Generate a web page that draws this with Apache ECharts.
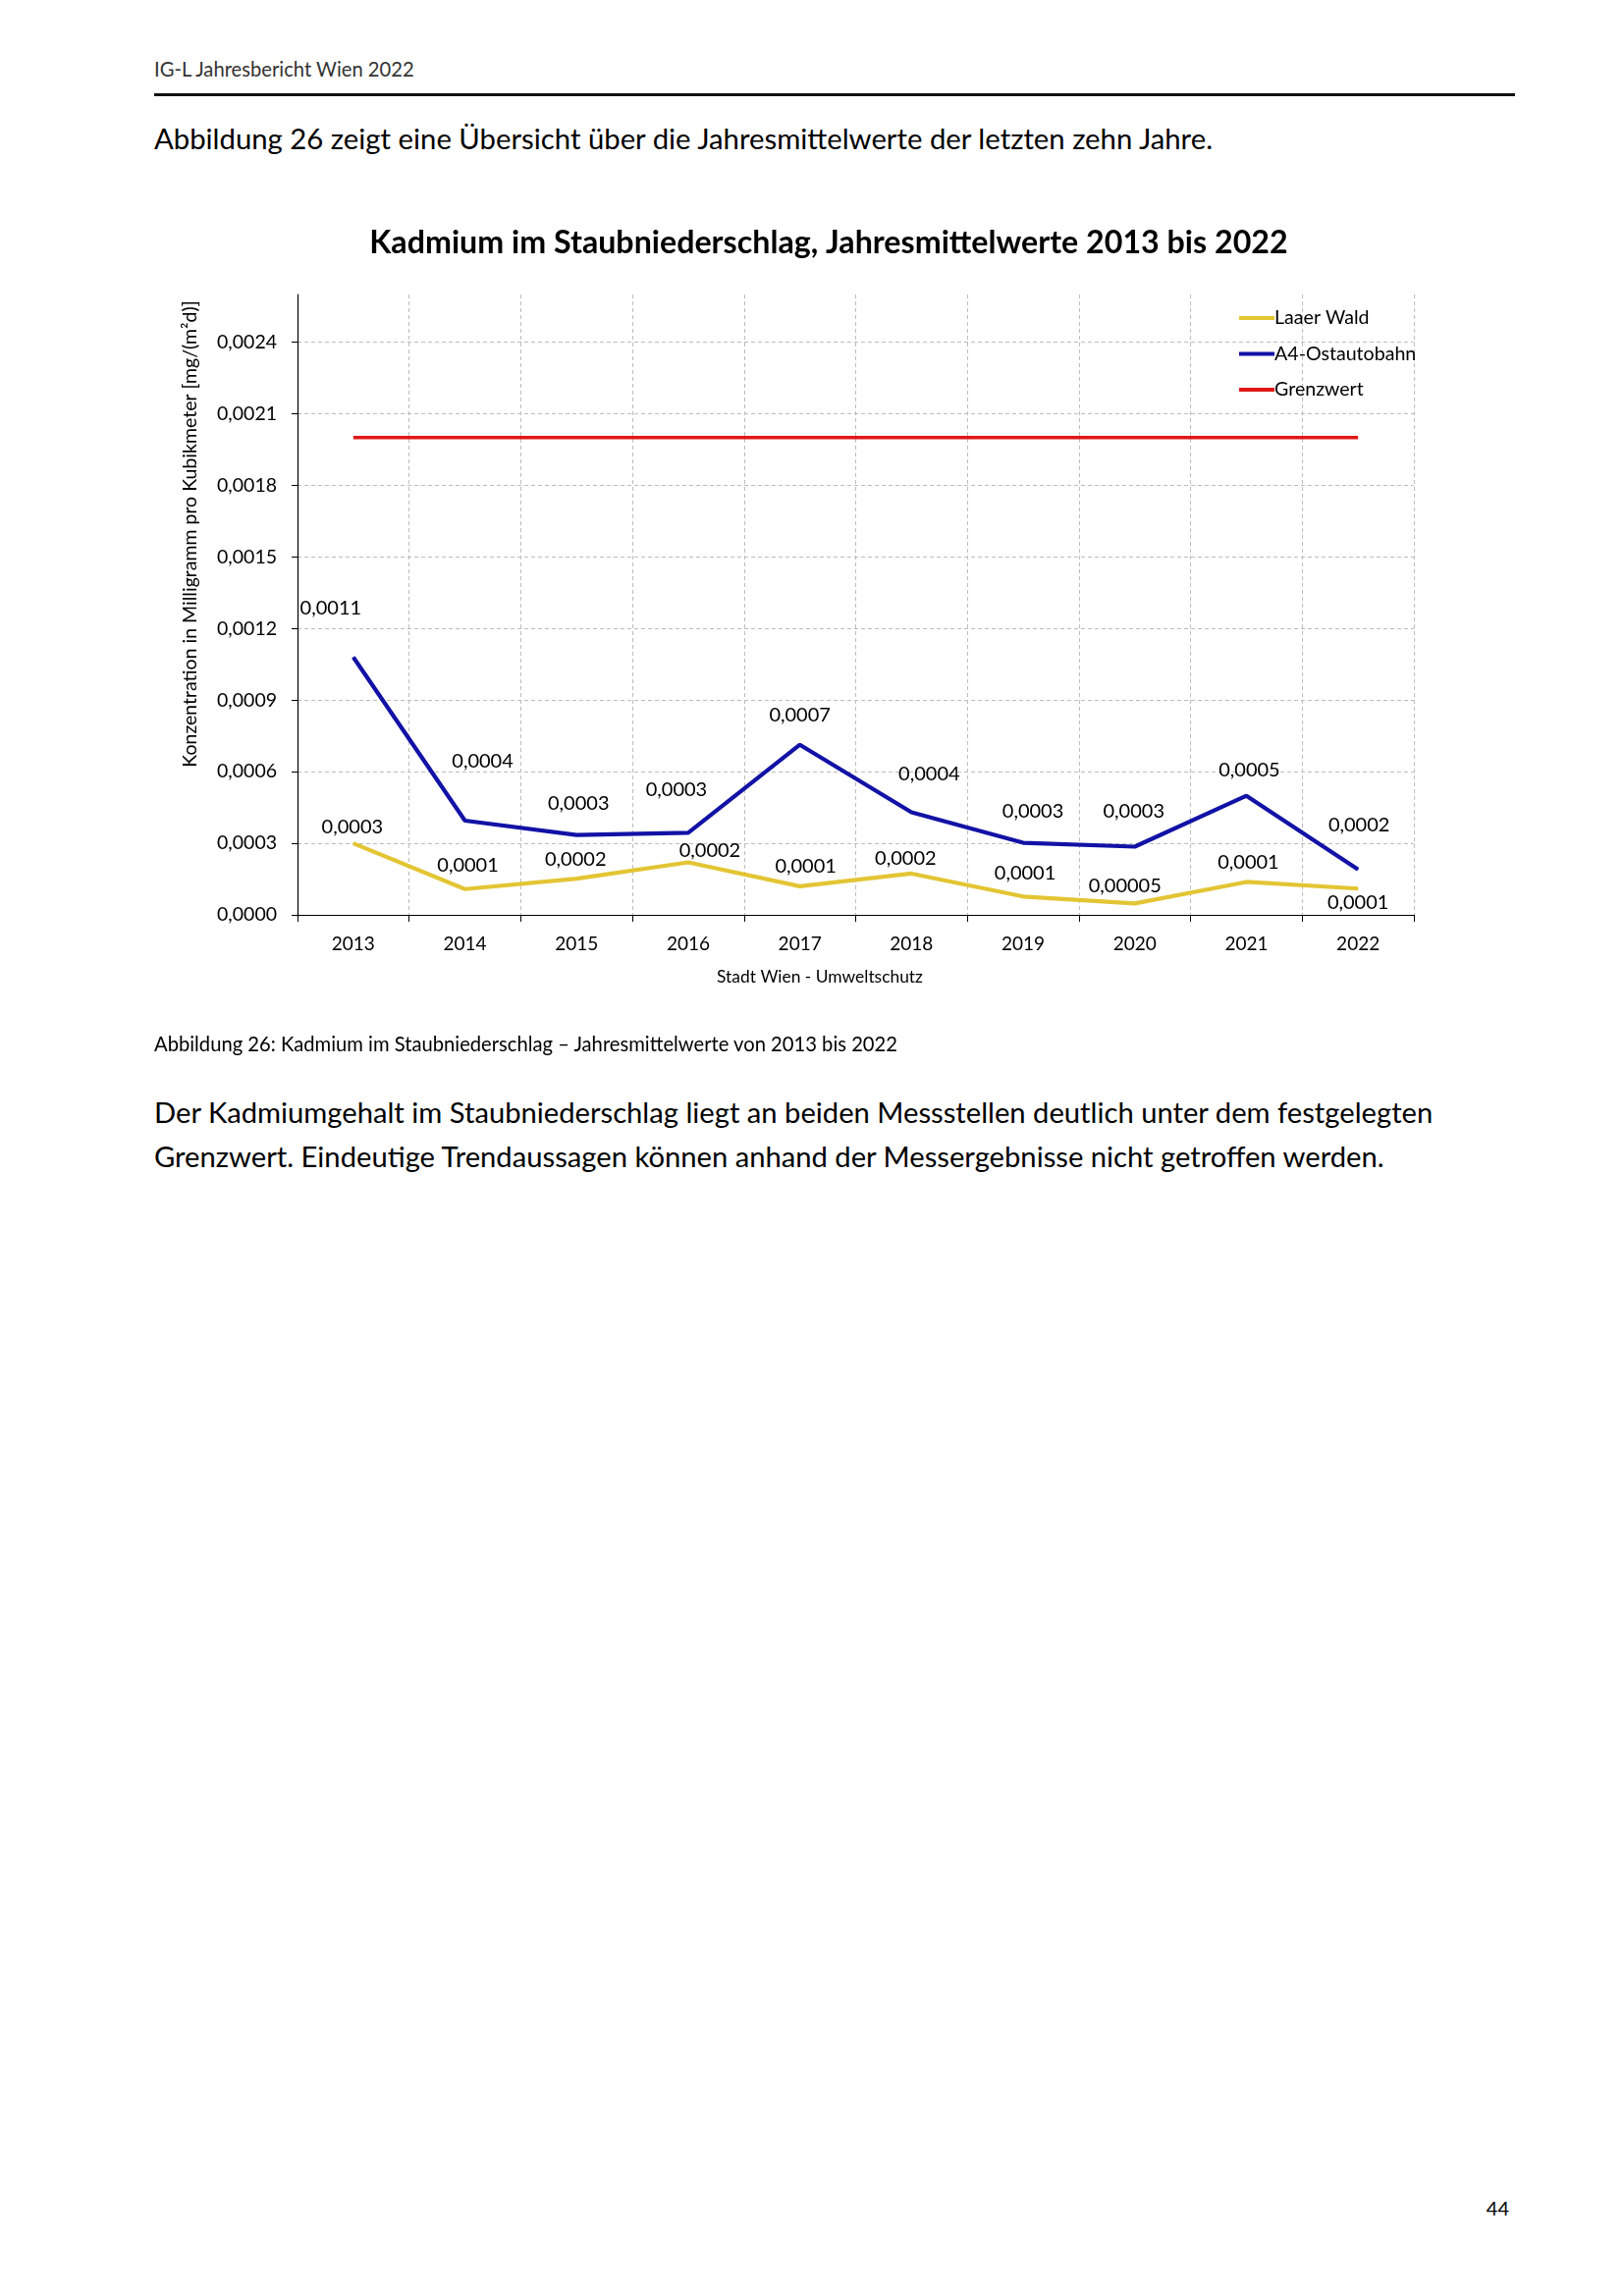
<!DOCTYPE html>
<html><head><meta charset="utf-8">
<script src="https://cdn.jsdelivr.net/npm/echarts@6/dist/echarts.min.js"></script>
<style>
html,body{margin:0;padding:0;background:#fff;}
body{width:1654px;height:2339px;position:relative;overflow:hidden;font-family:Lato,"Noto Sans",sans-serif;color:#000;}
#chart{position:absolute;left:0;top:0;width:1654px;height:1100px;}
.t{position:absolute;white-space:nowrap;line-height:1.2;}
</style></head><body>
<div class="t" style="left:157px;top:58px;font-size:20.2px;color:#333;">IG-L Jahresbericht Wien 2022</div>
<div style="position:absolute;left:157px;top:95px;width:1386px;height:3px;background:#111;"></div>
<div class="t" style="left:157px;top:123px;font-size:29.3px;">Abbildung 26 zeigt eine Übersicht über die Jahresmittelwerte der letzten zehn Jahre.</div>
<div id="chart"></div>
<div class="t" style="left:157px;top:1051px;font-size:20.2px;">Abbildung 26: Kadmium im Staubniederschlag – Jahresmittelwerte von 2013 bis 2022</div>
<div class="t" style="left:157px;top:1110px;font-size:29.2px;line-height:45px;">Der Kadmiumgehalt im Staubniederschlag liegt an beiden Messstellen deutlich unter dem festgelegten<br>Grenzwert. Eindeutige Trendaussagen können anhand der Messergebnisse nicht getroffen werden.</div>
<div class="t" style="right:117px;top:2237px;font-size:20px;">44</div>
<script>
// ---- data ----
var years = ['2013','2014','2015','2016','2017','2018','2019','2020','2021','2022'];
var laaerWald = [0.0003, 0.000108, 0.000152, 0.00022, 0.00012, 0.000173, 0.000077, 0.000048, 0.000138, 0.00011];
var a4Ostautobahn = [0.00108, 0.000395, 0.000335, 0.000344, 0.000713, 0.00043, 0.000302, 0.000286, 0.000499, 0.00019];
var grenzwert = [0.002, 0.002, 0.002, 0.002, 0.002, 0.002, 0.002, 0.002, 0.002, 0.002];
var yTicks = {min: 0, max: 0.0026, interval: 0.0003};

// ---- label layout (style only) ----
var offYellow = [[-1,-17],[3,-24],[-1,-20],[22,-12],[6,-20],[-6,-15],[2,-24],[-10,-18],[2,-20],[0,14]];
var offBlue = [[-23,-50],[18,-60],[2,-32],[-12,-44],[0,-30],[18,-39],[10,-32],[-1,-36],[3,-26],[1,-45]];

function fmt(v){
  var s = v.toFixed(4);
  if (parseFloat(s) === 0) s = v.toFixed(5);
  return s.replace('.', ',');
}
function withLabels(vals, offs){
  return vals.map(function(v,i){ return {value: v, label: {offset: offs[i]}}; });
}
var FONT = 'Lato, "Noto Sans", sans-serif';
var chart = echarts.init(document.getElementById('chart'));
chart.setOption({
  animation: false,
  textStyle: {fontFamily: FONT},
  grid: {left: 303, top: 300, right: 214, bottom: 168, containLabel: false},
  graphic: [
    {type:'text', x:844, y:248, style:{text:'Kadmium im Staubniederschlag, Jahresmittelwerte 2013 bis 2022', font:'bold 32.2px ' + FONT, fill:'#000', textAlign:'center', textVerticalAlign:'middle'}},
    {type:'text', x:194, y:544, rotation: Math.PI/2, style:{text:'Konzentration in Milligramm pro Kubikmeter [mg/(m²d)]', font:'19.5px ' + FONT, fill:'#000', textAlign:'center', textVerticalAlign:'middle'}},
    {type:'text', x:835, y:995, style:{text:'Stadt Wien - Umweltschutz', font:'17.4px ' + FONT, fill:'#000', textAlign:'center', textVerticalAlign:'middle'}}
  ],
  legend: {
    orient: 'vertical', left: 1257, top: 309, itemGap: 16.5,
    itemWidth: 36, itemHeight: 4, icon: 'rect',
    textStyle: {fontSize: 19.6, color: '#000', fontFamily: FONT, padding: [0,0,0,-5]},
    data: ['Laaer Wald','A4-Ostautobahn','Grenzwert']
  },
  xAxis: {
    type: 'category', data: years, boundaryGap: true,
    axisLine: {lineStyle: {color: '#000', width: 1.2}},
    axisTick: {show: true, length: 7, lineStyle: {color:'#000'}},
    axisLabel: {fontSize: 19, color: '#000', margin: 20},
    splitLine: {show: true, lineStyle: {color: '#bdbdbd', type: [4,3], width: 1}}
  },
  yAxis: {
    type: 'value', min: yTicks.min, max: yTicks.max, interval: yTicks.interval,
    axisLine: {show: true, lineStyle: {color: '#000', width: 1.2}},
    axisTick: {show: true, length: 6, lineStyle: {color:'#000'}},
    axisLabel: {fontSize: 19.5, color: '#000', margin: 21, showMaxLabel: false, formatter: function(v){ return v.toFixed(4).replace('.', ','); }},
    splitLine: {show: true, showMaxLine: false, lineStyle: {color: '#bdbdbd', type: [4,3], width: 1}}
  },
  series: [
    {name: 'Laaer Wald', type: 'line', data: withLabels(laaerWald, offYellow),
     symbol: 'circle', symbolSize: 1, color: '#E3C534',
     lineStyle: {width: 4.2, color: '#E3C534'},
     label: {show: true, position: 'inside', fontSize: 20, color: '#000', formatter: function(p){ return fmt(p.value); }},
     z: 3},
    {name: 'A4-Ostautobahn', type: 'line', data: withLabels(a4Ostautobahn, offBlue),
     symbol: 'circle', symbolSize: 1, color: '#1212A6',
     lineStyle: {width: 4.2, color: '#1212A6'},
     label: {show: true, position: 'inside', fontSize: 20, color: '#000', formatter: function(p){ return fmt(p.value); }},
     z: 4},
    {name: 'Grenzwert', type: 'line', data: grenzwert,
     symbol: 'none', color: '#E01818',
     lineStyle: {width: 3.5, color: '#E01818'}, z: 2}
  ]
});
</script>
</body></html>
